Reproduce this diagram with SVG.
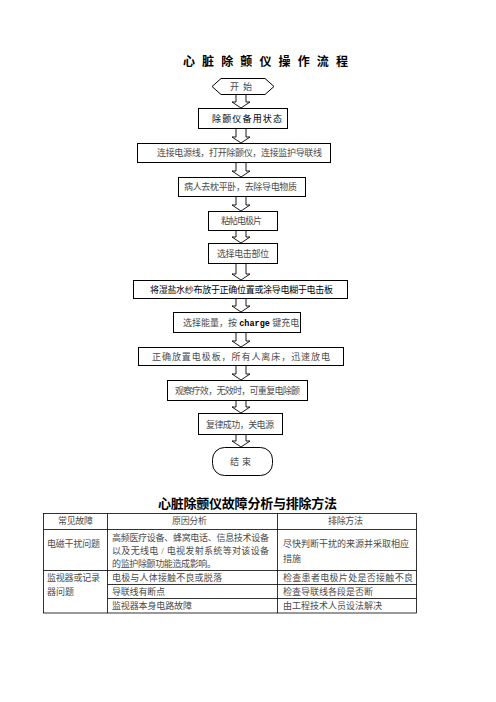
<svg xmlns="http://www.w3.org/2000/svg" width="496" height="702" viewBox="0 0 496 702">
<style>
.bx{fill:#fff;stroke:#000;stroke-width:1}
.ar{fill:#fff;stroke:#000;stroke-width:0.9}
.s{font-family:"Liberation Serif","Noto Sans CJK SC",serif;font-size:9px;fill:#4a4a4a}
.h{font-family:"Liberation Sans","Noto Sans CJK SC",sans-serif;font-size:9px;fill:#000}
.t{font-family:"Liberation Sans","Noto Sans CJK SC",sans-serif;font-weight:bold;fill:#000}
.tb{fill:none;stroke:#000;stroke-width:0.8}
</style>
<rect width="496" height="702" fill="#fff"/>
<text class="t" x="183" y="66" font-size="12" textLength="165" lengthAdjust="spacing">心脏除颤仪操作流程</text>

<g id="connectors">
<path class="ar" d="M236,94.5V102H232L241,108L250,102H246V94.5"/>
<path class="ar" d="M236,128.5V137H232L241,143L250,137H246V128.5"/>
<path class="ar" d="M236,162.5V171H232L241,177L250,171H246V162.5"/>
<path class="ar" d="M236,196.5V205H232L241,211L250,205H246V196.5"/>
<path class="ar" d="M236,230.5V237H232L241,243L250,237H246V230.5"/>
<path class="ar" d="M236,263.5V274H232L241,280L250,274H246V263.5"/>
<path class="ar" d="M236,298.5V306H232L241,312L250,306H246V298.5"/>
<path class="ar" d="M236,332.5V341H232L241,347L250,341H246V332.5"/>
<path class="ar" d="M236,365.5V374H232L241,380L250,374H246V365.5"/>
<path class="ar" d="M236,400.5V407H232L241,413L250,407H246V400.5"/>
<path class="ar" d="M236,434.5V441H232L241,447L250,441H246V434.5"/>
</g>

<g id="start">
<polygon class="bx" points="212,86.5 221,78.5 265,78.5 274,86.5 265,94.5 221,94.5"/>
<text class="s" x="230" y="89.5" textLength="22" lengthAdjust="spacing">开始</text>
</g>
<g id="n1">
<rect class="bx" x="198.5" y="108.5" width="89" height="20"/>
<text class="h" x="212" y="121.5" textLength="70" lengthAdjust="spacing">除颤仪备用状态</text>
</g>
<g id="n2">
<rect class="bx" x="137.5" y="143.5" width="193" height="19"/>
<text class="s" x="157" y="155.5" textLength="165" lengthAdjust="spacing">连接电源线，打开除颤仪，连接监护导联线</text>
</g>
<g id="n3">
<rect class="bx" x="178.5" y="177.5" width="127" height="19"/>
<text class="s" x="184" y="190" textLength="113" lengthAdjust="spacing">病人去枕平卧，去除导电物质</text>
</g>
<g id="n4">
<rect class="bx" x="208.5" y="211.5" width="69" height="19"/>
<text class="s" x="221" y="224" textLength="41" lengthAdjust="spacing">粘帖电极片</text>
</g>
<g id="n5">
<rect class="bx" x="208.5" y="243.5" width="69" height="20"/>
<text class="s" x="217" y="256.5" textLength="52" lengthAdjust="spacing">选择电击部位</text>
</g>
<g id="n6">
<rect class="bx" x="133.5" y="280.5" width="214" height="18"/>
<text class="h" x="150" y="292.5" textLength="183" lengthAdjust="spacing">将湿盐水纱布放于正确位置或涂导电糊于电击板</text>
</g>
<g id="n7">
<rect class="bx" x="173.5" y="312.5" width="127" height="20"/>
<text class="s" x="183" y="325.5">选择能量，按 <tspan font-family="Liberation Mono" font-weight="bold" font-size="8.5" fill="#000">charge</tspan> 键充电</text>
</g>
<g id="n8">
<rect class="bx" x="138.5" y="347.5" width="205" height="18"/>
<text class="s" x="152" y="359.5" textLength="178" lengthAdjust="spacing">正确放置电极板，所有人离床，迅速放电</text>
</g>
<g id="n9">
<rect class="bx" x="167.5" y="380.5" width="140" height="20"/>
<text class="s" x="175" y="393.5" textLength="125" lengthAdjust="spacing">观察疗效，无效时，可重复电除颤</text>
</g>
<g id="n10">
<rect class="bx" x="198.5" y="413.5" width="84" height="21"/>
<text class="s" x="206" y="427.5" textLength="68" lengthAdjust="spacing">复律成功，关电源</text>
</g>
<g id="end">
<rect class="bx" x="212.5" y="447.5" width="60" height="28" rx="12" ry="12"/>
<text class="s" x="230" y="464.5" textLength="21" lengthAdjust="spacing">结束</text>
</g>

<text class="t" x="158" y="508" font-size="13" textLength="179" lengthAdjust="spacing">心脏除颤仪故障分析与排除方法</text>

<g id="table">
<rect class="tb" x="43.5" y="513.5" width="373" height="99.5"/>
<path class="tb" d="M43.5,529.5H416.5M43.5,570.5H416.5M107.5,584.5H416.5M107.5,598.5H416.5M107.5,513.5V613M277.5,513.5V613"/>
<text class="s" x="58" y="523.5" textLength="35" lengthAdjust="spacing">常见故障</text>
<text class="s" x="172" y="523.5" textLength="35" lengthAdjust="spacing">原因分析</text>
<text class="s" x="328" y="523.5" textLength="35" lengthAdjust="spacing">排除方法</text>
<text class="s" x="47" y="546.5" textLength="53" lengthAdjust="spacing">电磁干扰问题</text>
<text class="s" x="112" y="540.5" textLength="157" lengthAdjust="spacing">高频医疗设备、蜂窝电话、信息技术设备</text>
<text class="s" x="112" y="553.5" textLength="157" lengthAdjust="spacing">以及无线电 / 电视发射系统等对该设备</text>
<text class="s" x="112" y="566.5" textLength="104" lengthAdjust="spacing">的监护除颤功能造成影响。</text>
<text class="s" x="283" y="546.5" textLength="126" lengthAdjust="spacing">尽快判断干扰的来源并采取相应</text>
<text class="s" x="283" y="561.5" textLength="18" lengthAdjust="spacing">措施</text>
<text class="s" x="47" y="580.5" textLength="53" lengthAdjust="spacing">监视器或记录</text>
<text class="s" x="47" y="594.5" textLength="27" lengthAdjust="spacing">器问题</text>
<text class="s" x="112" y="580.5" textLength="110" lengthAdjust="spacing">电极与人体接触不良或脱落</text>
<text class="s" x="112" y="594.5" textLength="53" lengthAdjust="spacing">导联线有断点</text>
<text class="s" x="112" y="608.5" textLength="80" lengthAdjust="spacing">监视器本身电路故障</text>
<text class="s" x="283" y="580.5" textLength="130" lengthAdjust="spacing">检查患者电极片处是否接触不良</text>
<text class="s" x="283" y="594.5" textLength="90" lengthAdjust="spacing">检查导联线各段是否断</text>
<text class="s" x="283" y="608.5" textLength="99" lengthAdjust="spacing">由工程技术人员设法解决</text>
</g>
</svg>
